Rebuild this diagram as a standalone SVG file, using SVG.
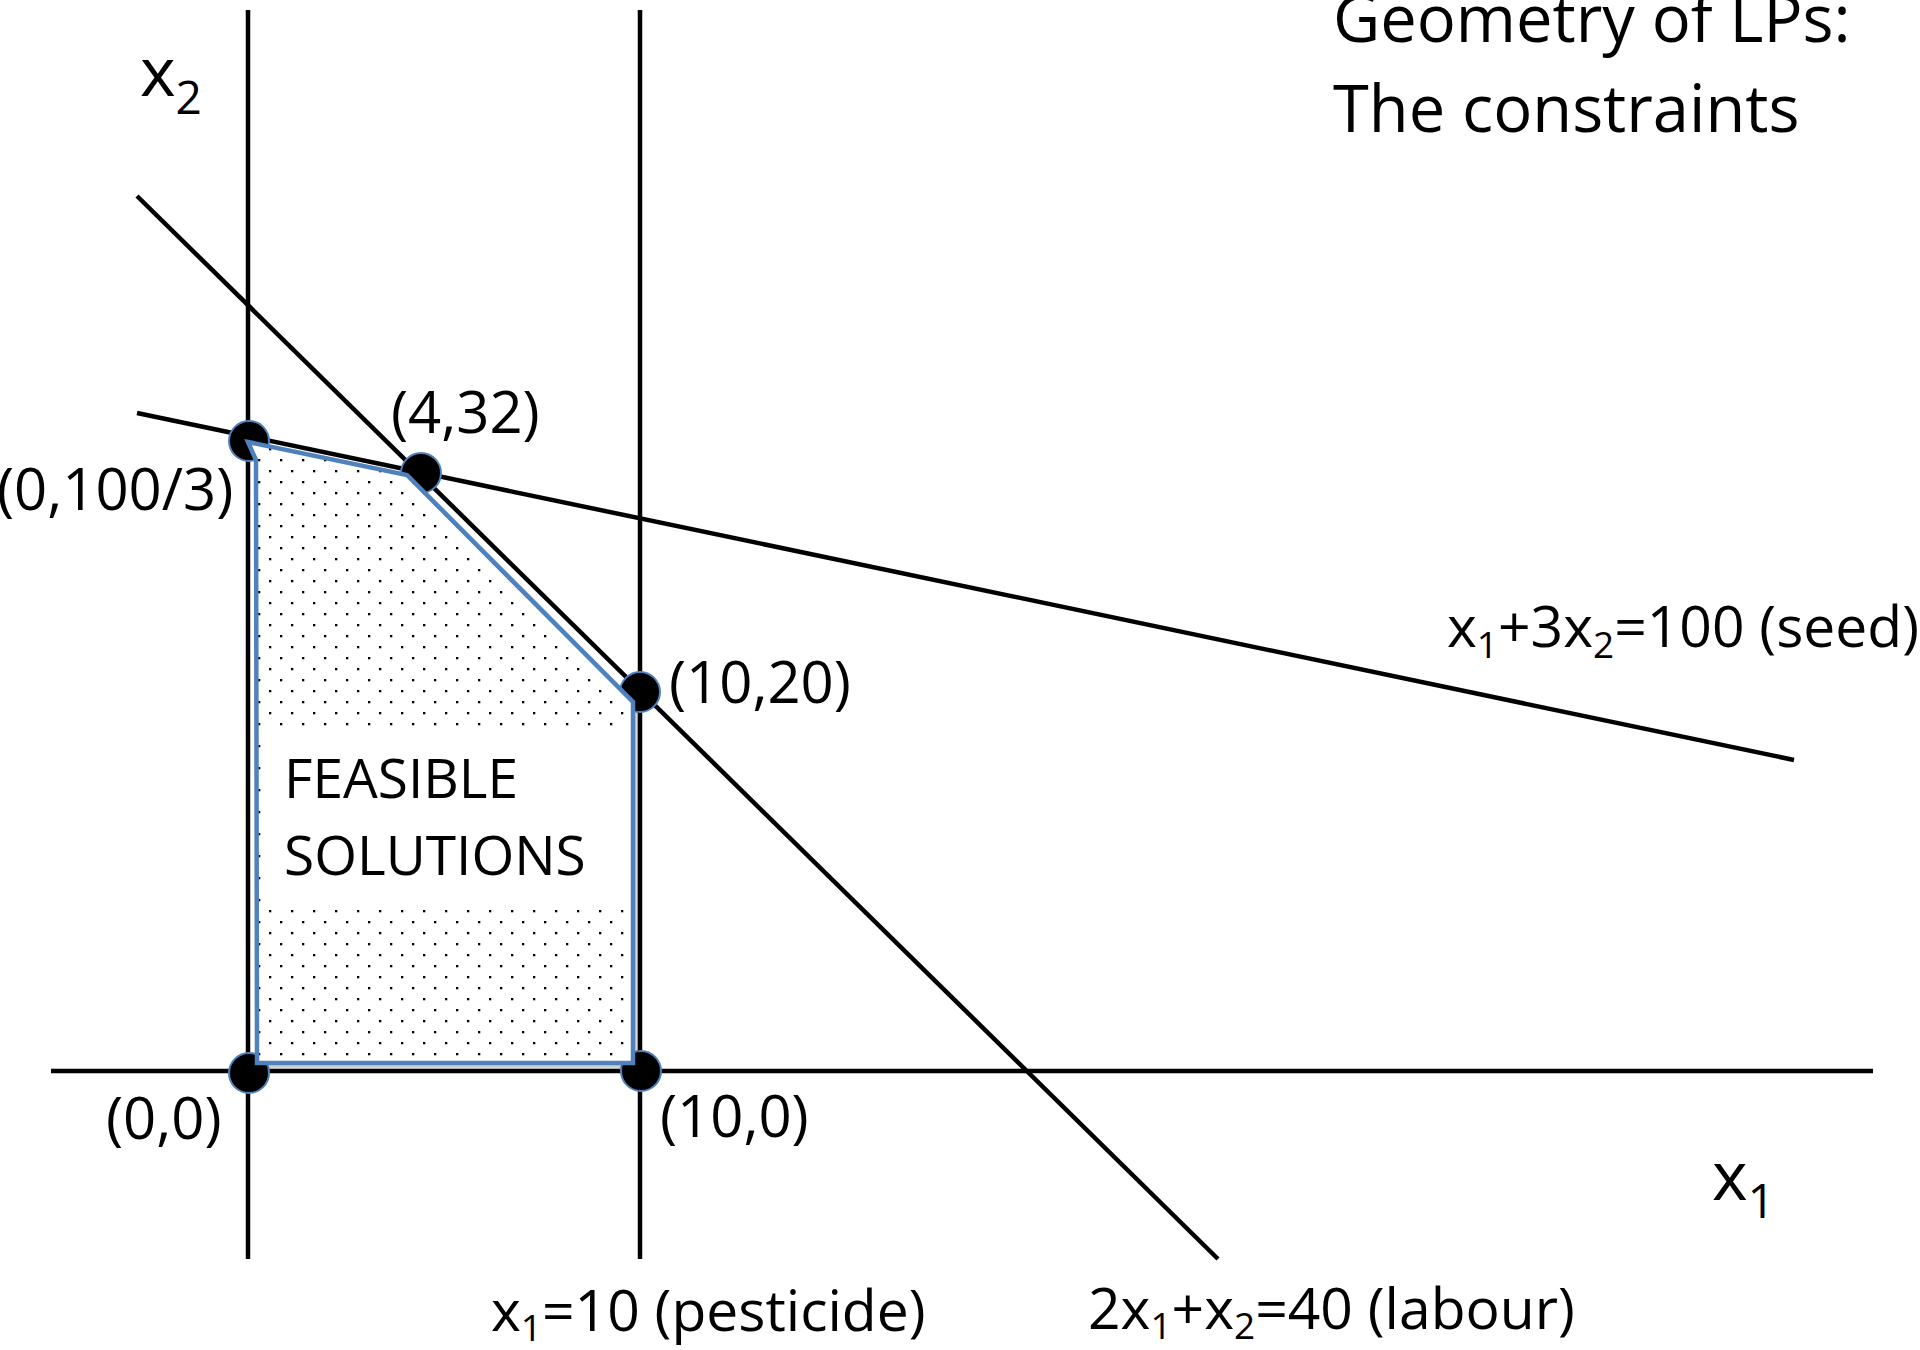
<svg xmlns="http://www.w3.org/2000/svg" width="1920" height="1350" viewBox="0 0 1920 1350">
<style>
text{font-family:"Open Sans","Noto Sans","DejaVu Sans",sans-serif;fill:#000}
.lbl{font-size:58px}
.big{font-size:68px}
.ttl{font-size:65px}
.ln{stroke:#000;stroke-width:4.5;fill:none}
.vtx{fill:#000;stroke:#4F81BD;stroke-width:2}
</style>
<defs>
<pattern id="dots" patternUnits="userSpaceOnUse" width="22" height="22">
<rect x="5" y="8" width="2.3" height="2.3" fill="#000"/>
<rect x="16" y="19" width="2.3" height="2.3" fill="#000"/>
</pattern>
</defs>
<rect width="1920" height="1350" fill="#fff"/>
<g id="connectors" class="ln">
<line x1="248" y1="10" x2="248" y2="1259"/>
<line x1="640" y1="10" x2="640" y2="1259"/>
<line x1="51" y1="1071" x2="1873" y2="1071"/>
<line x1="137" y1="413" x2="1794" y2="760"/>
<line x1="137" y1="196" x2="1218" y2="1259"/>
</g>
<g id="vertices">
<g id="v-0-100-3"><circle class="vtx" cx="249" cy="441" r="20"/></g>
<g id="v-4-32"><circle class="vtx" cx="421" cy="473" r="20"/></g>
<g id="v-10-20"><circle class="vtx" cx="640" cy="692" r="20"/></g>
<g id="v-0-0"><circle class="vtx" cx="249" cy="1073" r="20"/></g>
<g id="v-10-0"><circle class="vtx" cx="641" cy="1071" r="20"/></g>
</g>
<g id="feasible-region">
<polygon points="248,442 407,475 633,702 633,1063 257,1063 256,460" fill="none" stroke="#000" stroke-opacity="0.18" stroke-width="5" transform="translate(3,3)"/>
<polygon points="248,442 407,475 633,702 633,1063 257,1063 256,460" fill="#fff"/>
<polygon points="248,442 407,475 633,702 633,1063 257,1063 256,460" fill="url(#dots)"/>
<rect x="261" y="729" width="370" height="177" fill="#fff"/>
<polygon points="248,442 407,475 633,702 633,1063 257,1063 256,460" fill="none" stroke="#4F81BD" stroke-width="4.5" stroke-linejoin="miter"/>
<text x="284" y="798" style="font-size:55px">FEASIBLE</text>
<text x="284" y="875" style="font-size:55px">SOLUTIONS</text>
</g>
<g id="title">
<text class="ttl" x="1333" y="42">Geometry of LPs:</text>
<text class="ttl" x="1333" y="132">The constraints</text>
</g>
<g id="axis-labels">
<text class="big" x="140" y="96">x<tspan font-size="46" dy="18">2</tspan></text>
<text class="big" x="1712" y="1200">x<tspan font-size="48" dy="18">1</tspan></text>
</g>
<g id="point-labels">
<text class="lbl" x="-3" y="510">(0,100/3)</text>
<text class="lbl" x="391" y="433">(4,32)</text>
<text class="lbl" x="669" y="703">(10,20)</text>
<text class="lbl" x="106" y="1139">(0,0)</text>
<text class="lbl" x="660" y="1137">(10,0)</text>
</g>
<g id="constraint-labels">
<text class="lbl" x="1447" y="647" style="font-size:57px">x<tspan font-size="37" dy="11">1</tspan><tspan dy="-11">+3x</tspan><tspan font-size="37" dy="11">2</tspan><tspan dy="-11">=100 (seed)</tspan></text>
<text class="lbl" x="491" y="1331" style="font-size:57px">x<tspan font-size="37" dy="10">1</tspan><tspan dy="-10">=10 (pesticide)</tspan></text>
<text class="lbl" x="1088" y="1329" style="font-size:57px">2x<tspan font-size="37" dy="10">1</tspan><tspan dy="-10">+x</tspan><tspan font-size="37" dy="10">2</tspan><tspan dy="-10">=40 (labour)</tspan></text>
</g>
</svg>
